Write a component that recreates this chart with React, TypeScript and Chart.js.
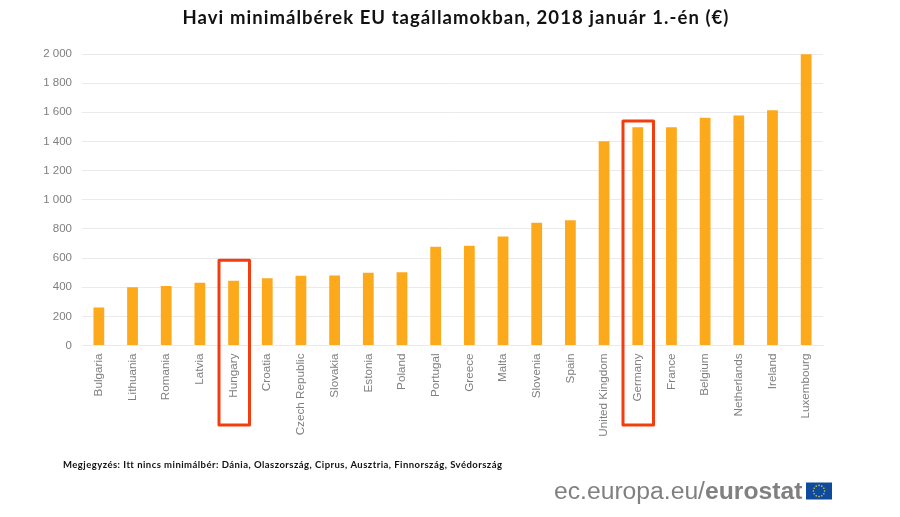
import { useEffect, useRef } from "react";
import { Chart, registerables } from "chart.js";

Chart.register(...registerables);

const titleText = "Havi minimálbérek EU tagállamokban, 2018 január 1.-én (€)";
const noteText = "Megjegyzés: Itt nincs minimálbér: Dánia, Olaszország, Ciprus, Ausztria, Finnország, Svédország";
const categories = [
  "Bulgaria", "Lithuania", "Romania", "Latvia", "Hungary", "Croatia", "Czech Republic", "Slovakia",
  "Estonia", "Poland", "Portugal", "Greece", "Malta", "Slovenia", "Spain", "United Kingdom",
  "Germany", "France", "Belgium", "Netherlands", "Ireland", "Luxembourg",
];
const wages = [260, 400, 408, 430, 445, 462, 478, 480, 500, 503, 677, 684, 748, 843, 859, 1401, 1498, 1498, 1563, 1578, 1614, 1999];
const highlighted = ["Hungary", "Germany"];
const highlightTops = [585, 1540];

const overlays = {
  id: "overlays",
  beforeDraw(chart: any) {
    // the reference title is a wide geometric face: widen Lato with letter spacing,
    // and centre it on the page rather than on the padded chart box
    const block = chart.titleBlock;
    if (block && !block.__spaced) {
      const draw = block.draw;
      block.draw = function () {
        const c = chart.ctx;
        c.save();
        c.translate(44.5, 0);
        c.letterSpacing = "1.05px";
        draw.call(this);
        c.restore();
      };
      block.__spaced = true;
    }
  },
  afterDraw(chart: any) {
    const { ctx, scales } = chart;
    ctx.save();
    // red highlight frames
    ctx.strokeStyle = "#f23d0f";
    ctx.lineWidth = 3;
    ctx.lineJoin = "round";
    highlighted.forEach((name, i) => {
      const cx = scales.x.getPixelForValue(categories.indexOf(name));
      const top = scales.y.getPixelForValue(highlightTops[i]);
      ctx.strokeRect(Math.round(cx) - 15, top, 30.5, 425 - top);
    });
    // footnote
    ctx.fillStyle = "#111";
    ctx.textBaseline = "middle";
    ctx.textAlign = "left";
    ctx.font = "bold 9.5px Lato";
    ctx.letterSpacing = "0.46px";
    ctx.fillText(noteText, 63, 464.5);
    ctx.letterSpacing = "0px";
    // source line
    ctx.fillStyle = "#808080";
    ctx.font = "24.7px 'Liberation Sans'";
    const a = "ec.europa.eu/";
    ctx.fillText(a, 554, 492);
    const w = ctx.measureText(a).width;
    ctx.font = "bold 24.7px 'Liberation Sans'";
    ctx.fillText("eurostat", 554 + w, 492);
    // flag
    ctx.fillStyle = "#104a9c";
    ctx.fillRect(806, 482.5, 26, 17);
    ctx.fillStyle = "#d8c83a";
    for (let i = 0; i < 12; i++) {
      const t = (i / 12) * Math.PI * 2;
      ctx.beginPath();
      ctx.arc(819 + 5.6 * Math.cos(t), 491 + 5.6 * Math.sin(t), 0.8, 0, Math.PI * 2);
      ctx.fill();
    }
    ctx.restore();
  },
};

export default function App() {
  const ref = useRef<HTMLCanvasElement>(null);
  useEffect(() => {
    const chart = new Chart(ref.current!, {
      type: "bar",
      data: {
        labels: categories,
        datasets: [{ data: wages, backgroundColor: "#fda91c", barPercentage: 0.32, categoryPercentage: 1 }],
      },
      plugins: [overlays],
      options: {
        responsive: false,
        animation: false,
        layout: { padding: { top: 0, left: 0, right: 77, bottom: 0 } },
        plugins: {
          legend: { display: false },
          tooltip: { enabled: false },
          title: {
            display: true,
            text: titleText,
            color: "#111",
            font: { family: "Lato", size: 18.5, weight: "bold", lineHeight: 1.2 },
            padding: { top: 7, bottom: 24.8 },
          },
        },
        scales: {
          x: {
            afterFit(s: any) { s.height = 171.5; },
            grid: { display: false, drawTicks: false },
            border: { color: "#e9e9ee", width: 1 },
            ticks: {
              minRotation: 90, maxRotation: 90, autoSkip: false, padding: 8,
              color: "#7f7f7f", font: { family: "'Liberation Sans'", size: 11.7 },
            },
          },
          y: {
            min: 0, max: 2000,
            afterFit(s: any) { s.width = 82; },
            border: { display: false },
            grid: { color: "#e9e9ee", drawTicks: false, lineWidth: 1 },
            ticks: {
              stepSize: 200, padding: 10,
              color: "#7f7f7f", font: { family: "'Liberation Sans'", size: 11.5 },
              callback: (v: any) => String(v).replace(/\B(?=(\d{3})+$)/g, " "),
            },
          },
        },
      },
    } as any);
    return () => chart.destroy();
  }, []);
  return (
    <canvas
      ref={ref}
      width={900}
      height={517}
      style={{ position: "fixed", left: 0, top: 0, width: 900, height: 517, background: "#fff", filter: "blur(0.4px)" }}
    />
  );
}
